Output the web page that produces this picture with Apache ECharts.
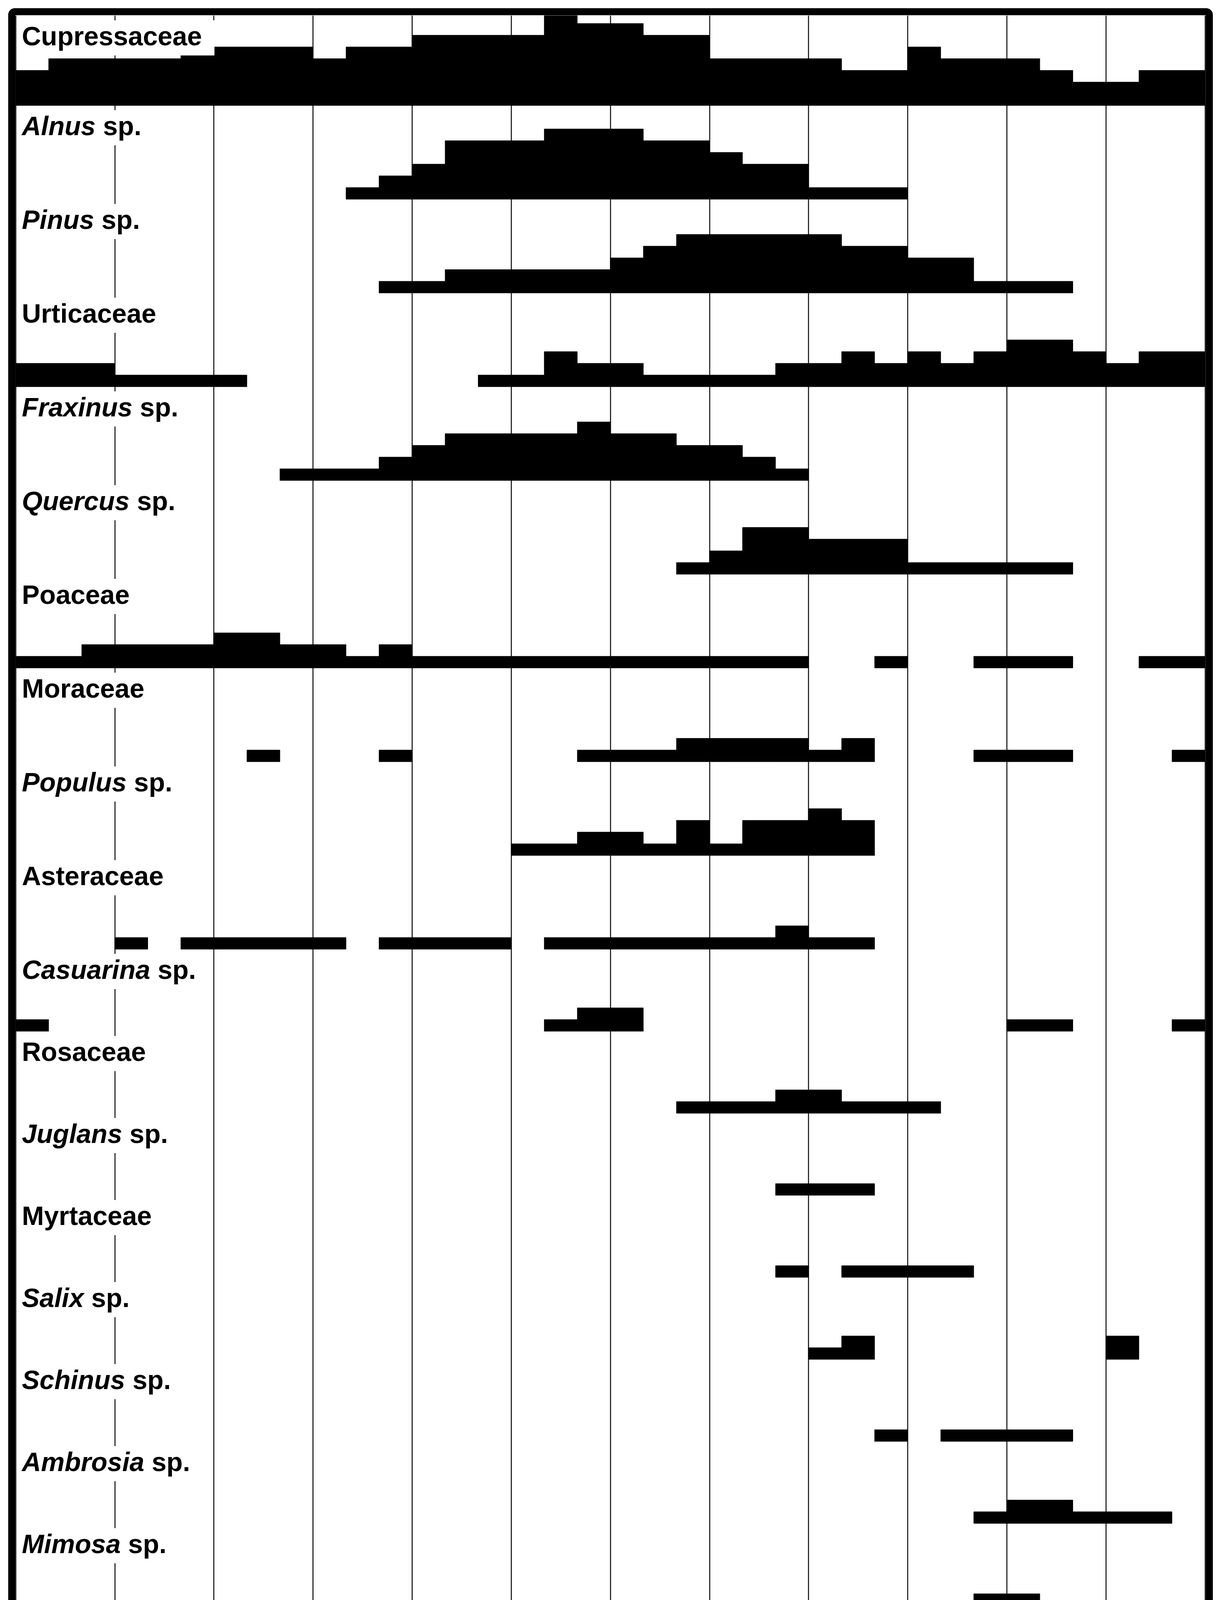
<!DOCTYPE html>
<html>
<head>
<meta charset="utf-8">
<script src="https://cdn.jsdelivr.net/npm/echarts/dist/echarts.min.js"></script>
<style>
html,body{margin:0;padding:0;background:#fff;}
#chart{width:3132px;height:5535px;}
</style>
</head>
<body>
<div id="chart"></div>
<script>
// ---------- DATA ----------
const months = ['AUG','SEP','OCT','NOV','DEC','JAN','FEB','MAR','APR','MAY','JUN','JUL'];

const taxaLabels = [
  'Cupressaceae', '{i|Alnus} sp.', '{i|Pinus} sp.', 'Urticaceae', '{i|Fraxinus} sp.',
  '{i|Quercus} sp.', 'Poaceae', 'Moraceae', '{i|Populus} sp.', 'Asteraceae',
  '{i|Casuarina} sp.', 'Rosaceae', '{i|Juglans} sp.', 'Myrtaceae', '{i|Salix} sp.',
  '{i|Schinus} sp.', '{i|Ambrosia} sp.', '{i|Mimosa} sp.'
];

// pollen class (0 = absent) for each 10-day period, Aug 1st decade ... Jul 3rd decade
const cupressaceae = [3,4,4,4,4,5,5,5,5,4,5,5,6,6,6,6,8,7,7,6,6,4,4,4,4,3,3,5,4,4,4,3,2,2,3,3];
const alnus        = [0,0,0,0,0,0,0,0,0,0,1,2,3,5,5,5,6,6,6,5,5,4,3,3,1,1,1,0,0,0,0,0,0,0,0,0];
const pinus        = [0,0,0,0,0,0,0,0,0,0,0,1,1,2,2,2,2,2,3,4,5,5,5,5,5,4,4,3,3,1,1,1,0,0,0,0];
const urticaceae   = [2,2,2,1,1,1,1,0,0,0,0,0,0,0,1,1,3,2,2,1,1,1,1,2,2,3,2,3,2,3,4,4,3,2,3,3];
const fraxinus     = [0,0,0,0,0,0,0,0,1,1,1,2,3,4,4,4,4,5,4,4,3,3,2,1,0,0,0,0,0,0,0,0,0,0,0,0];
const quercus      = [0,0,0,0,0,0,0,0,0,0,0,0,0,0,0,0,0,0,0,0,1,2,4,4,3,3,3,1,1,1,1,1,0,0,0,0];
const poaceae      = [1,1,2,2,2,2,3,3,2,2,1,2,1,1,1,1,1,1,1,1,1,1,1,1,0,0,1,0,0,1,1,1,0,0,1,1];
const moraceae     = [0,0,0,0,0,0,0,1,0,0,0,1,0,0,0,0,0,1,1,1,2,2,2,2,1,2,0,0,0,1,1,1,0,0,0,1];
const populus      = [0,0,0,0,0,0,0,0,0,0,0,0,0,0,0,1,1,2,2,1,3,1,3,3,4,3,0,0,0,0,0,0,0,0,0,0];
const asteraceae   = [0,0,0,1,0,1,1,1,1,1,0,1,1,1,1,0,1,1,1,1,1,1,1,2,1,1,0,0,0,0,0,0,0,0,0,0];
const casuarina    = [1,0,0,0,0,0,0,0,0,0,0,0,0,0,0,0,1,2,2,0,0,0,0,0,0,0,0,0,0,0,1,1,0,0,0,1];
const rosaceae     = [0,0,0,0,0,0,0,0,0,0,0,0,0,0,0,0,0,0,0,0,1,1,1,2,2,1,1,1,0,0,0,0,0,0,0,0];
const juglans      = [0,0,0,0,0,0,0,0,0,0,0,0,0,0,0,0,0,0,0,0,0,0,0,1,1,1,0,0,0,0,0,0,0,0,0,0];
const myrtaceae    = [0,0,0,0,0,0,0,0,0,0,0,0,0,0,0,0,0,0,0,0,0,0,0,1,0,1,1,1,1,0,0,0,0,0,0,0];
const salix        = [0,0,0,0,0,0,0,0,0,0,0,0,0,0,0,0,0,0,0,0,0,0,0,0,1,2,0,0,0,0,0,0,0,2,0,0];
const schinus      = [0,0,0,0,0,0,0,0,0,0,0,0,0,0,0,0,0,0,0,0,0,0,0,0,0,0,1,0,1,1,1,1,0,0,0,0];
const ambrosia     = [0,0,0,0,0,0,0,0,0,0,0,0,0,0,0,0,0,0,0,0,0,0,0,0,0,0,0,0,0,1,2,2,1,1,1,0];
const mimosa       = [0,0,0,0,0,0,0,0,0,0,0,0,0,0,0,0,0,0,0,0,0,0,0,0,0,0,0,0,0,1,1,0,0,0,0,0];

const scaleClasses = ['1-2','3-5','5-11','12-23','24-49','50-99','100-199','200-399','400-799','800-1200'];
const scaleValues  = [1,2,3,4,5,6,7,8,9,10];

// ---------- LAYOUT ----------
const calendarLevels = [cupressaceae, alnus, pinus, urticaceae, fraxinus, quercus, poaceae, moraceae,
  populus, asteraceae, casuarina, rosaceae, juglans, myrtaceae, salix, schinus, ambrosia, mimosa];
// baseline of each row in class units counted from the bottom of the calendar
const rowBase = [128,120,112,104,96,88,80,72,64,56,49,42,35,28,21,14,7,0];
const Y_MAX = 135.67;
const LABEL_DROP = 1.9;
const SANS = 'Liberation Sans';
const SERIF = 'Liberation Serif';

function renderRow(params, api) {
  const i = params.dataIndex;
  const levels = calendarLevels[i];
  const base = rowBase[i];
  const bandTop = i === 0 ? Y_MAX : rowBase[i - 1];
  const children = [];
  let d = 0;
  while (d < levels.length) {
    if (!levels[d]) { d++; continue; }
    const pts = [api.coord([d, base])];
    while (d < levels.length && levels[d] > 0) {
      const top = Math.min(base + levels[d], Y_MAX);
      pts.push(api.coord([d, top]), api.coord([d + 1, top]));
      d++;
    }
    pts.push(api.coord([d, base]));
    children.push({
      type: 'polygon', shape: { points: pts },
      style: { fill: '#000', stroke: '#000', lineWidth: 1 }
    });
  }
  const lp = api.coord([0, bandTop - LABEL_DROP]);
  children.push({
    type: 'text', x: lp[0] + 8, y: lp[1], z2: 10,
    style: {
      text: taxaLabels[i],
      fill: '#000',
      fontSize: 68, fontWeight: 'bold', fontFamily: SANS,
      rich: { i: { fontSize: 68, fontWeight: 'bold', fontStyle: 'italic', fontFamily: SANS, fill: '#000' } },
      backgroundColor: '#fff',
      padding: [10, 32, 10, 8],
      lineHeight: 70,
      align: 'left', verticalAlign: 'middle',
      textAlign: 'left', textVerticalAlign: 'middle'
    }
  });
  return { type: 'group', children };
}

const gridLine = { color: '#2e2e2e', width: 3 };

const option = {
  animation: false,
  backgroundColor: '#fff',
  grid: [
    { left: 40, right: 46, top: 40, bottom: 1425, containLabel: false },
    { left: 105, right: 142, top: 4440, bottom: 422, containLabel: false }
  ],
  xAxis: [
    {
      type: 'value', gridIndex: 0, min: 0, max: 36, interval: 3,
      axisLabel: { show: false }, axisTick: { show: false }, axisLine: { show: false },
      splitLine: { show: true, lineStyle: gridLine }
    },
    {
      type: 'category', gridIndex: 0, data: months, position: 'bottom', boundaryGap: true,
      axisLine: { show: true, lineStyle: gridLine },
      axisTick: { show: true, length: 118, interval: 0, lineStyle: gridLine },
      axisLabel: { show: true, interval: 0, margin: 37, fontSize: 78, lineHeight: 78,
        fontWeight: 'bold', fontFamily: SANS, color: '#000' },
      splitLine: { show: false }
    },
    {
      type: 'category', gridIndex: 1, data: scaleClasses, boundaryGap: true,
      axisLine: { show: false }, axisTick: { show: false },
      axisLabel: { show: true, interval: 0, margin: 72, fontSize: 68, lineHeight: 68,
        fontWeight: 'bold', fontFamily: SERIF, color: '#111' },
      splitLine: { show: false }
    }
  ],
  yAxis: [
    { type: 'value', gridIndex: 0, min: 0, max: Y_MAX, show: false, splitLine: { show: false } },
    { type: 'value', gridIndex: 1, min: 0, max: 10, show: false, splitLine: { show: false } }
  ],
  series: [
    {
      type: 'custom', xAxisIndex: 0, yAxisIndex: 0,
      data: taxaLabels.map((t, i) => i),
      renderItem: renderRow,
      silent: true
    },
    {
      type: 'bar', xAxisIndex: 2, yAxisIndex: 1,
      data: scaleValues, barCategoryGap: '0%',
      itemStyle: { color: '#000', borderColor: '#000', borderWidth: 3 },
      silent: true
    }
  ],
  graphic: [
    { type: 'rect', z: 100, shape: { x: 30, y: 30, width: 3067, height: 4209, r: 8 },
      style: { fill: 'none', stroke: '#000', lineWidth: 18 } },
    { type: 'text', x: 1655, y: 4333, z: 100,
      style: { text: 'Scale for pollinic calendar', fill: '#111', fontSize: 96, fontWeight: 'bold', fontFamily: SERIF,
        align: 'center', verticalAlign: 'middle', textAlign: 'center', textVerticalAlign: 'middle' } },
    { type: 'text', x: 1689, y: 4490, z: 100,
      style: { text: '(Spieksma and Wahl, 1991)', fill: '#111', fontSize: 80, fontFamily: SERIF,
        align: 'center', verticalAlign: 'middle', textAlign: 'center', textVerticalAlign: 'middle' } },
    { type: 'text', x: 1655, y: 5478, z: 100,
      style: { text: 'Pollen grains / m³ of air', fill: '#111', fontSize: 80, fontWeight: 'bold', fontFamily: SERIF,
        align: 'center', verticalAlign: 'middle', textAlign: 'center', textVerticalAlign: 'middle' } }
  ]
};

const chart = echarts.init(document.getElementById('chart'), null, { renderer: 'canvas' });
chart.setOption(option);
</script>
</body>
</html>
